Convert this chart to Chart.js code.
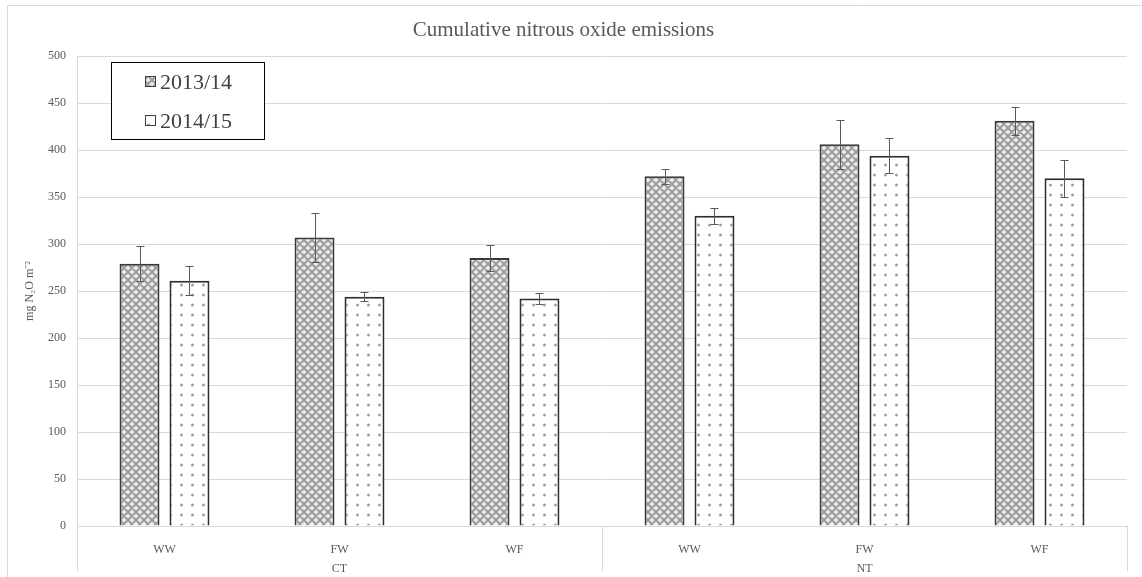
<!DOCTYPE html>
<html>
<head>
    <meta charset="UTF-8">
    <title>Cumulative nitrous oxide emissions</title>
    <script src="https://cdn.jsdelivr.net/npm/chart.js@4.4.0/dist/chart.umd.min.js"></script>
    <style>
        html, body { margin: 0; padding: 0; background: #fff; }
        #wrap { width: 1142px; height: 577px; }
    </style>
</head>
<body>
    <div id="wrap"><canvas id="myChart" width="1142" height="577"></canvas></div>
    <script>

        var categories = ['WW', 'FW', 'WF', 'WW', 'FW', 'WF'];
        var groups = ['CT', 'NT'];
        var seasonLabels = ['2013/14', '2014/15'];
        var season1 = [279, 307, 285, 372, 406, 431];
        var season1Err = [18.5, 26, 14, 8, 26, 15];
        var season2 = [261, 244, 242, 330, 394, 370];
        var season2Err = [15.5, 5, 5.5, 8.5, 18.5, 19.5];
        var yTicks = [0, 50, 100, 150, 200, 250, 300, 350, 400, 450, 500];

        var textGrey = '#595959';
        var gridGrey = '#d9d9d9';

        // hatch tile for 2013/14
        function hatchPattern() {
            var c = document.createElement('canvas');
            c.width = 8; c.height = 8;
            var g = c.getContext('2d');
            g.fillStyle = '#ececec';
            g.fillRect(0, 0, 8, 8);
            g.strokeStyle = '#9c9c9c';
            g.lineWidth = 2;
            g.beginPath();
            g.moveTo(-2, -2); g.lineTo(10, 10);
            g.moveTo(-2, 6); g.lineTo(2, 10);
            g.moveTo(6, -2); g.lineTo(10, 2);
            g.moveTo(10, -2); g.lineTo(-2, 10);
            g.moveTo(2, -2); g.lineTo(-2, 2);
            g.moveTo(10, 6); g.lineTo(6, 10);
            g.stroke();
            return g.createPattern(c, 'repeat');
        }

        // dotted tile for 2014/15
        function dotPattern() {
            var c = document.createElement('canvas');
            c.width = 11; c.height = 10;
            var g = c.getContext('2d');
            g.fillStyle = '#ffffff';
            g.fillRect(0, 0, 11, 10);
            g.fillStyle = '#a0a0a0';
            g.beginPath();
            g.arc(5.5, 5, 1.5, 0, Math.PI * 2);
            g.fill();
            return g.createPattern(c, 'repeat');
        }

        var fills = [hatchPattern(), dotPattern()];
        var errors = [season1Err, season2Err];

        var errorBars = {
            id: 'errorBars',
            afterDatasetsDraw(chart) {
                var ctx = chart.ctx;
                var y = chart.scales.y;
                ctx.save();
                ctx.strokeStyle = '#595959';
                ctx.lineWidth = 1;
                chart.data.datasets.forEach(function (ds, i) {
                    var meta = chart.getDatasetMeta(i);
                    meta.data.forEach(function (bar, j) {
                        var v = ds.data[j], e = errors[i][j];
                        var x = Math.round(bar.x) + 0.5;
                        var top = Math.round(y.getPixelForValue(v + e)) + 0.5;
                        var bot = Math.round(y.getPixelForValue(v - e)) + 0.5;
                        ctx.beginPath();
                        ctx.moveTo(x, top); ctx.lineTo(x, bot);
                        ctx.moveTo(x - 4, top); ctx.lineTo(x + 4, top);
                        ctx.moveTo(x - 4, bot); ctx.lineTo(x + 4, bot);
                        ctx.stroke();
                    });
                });
                ctx.restore();
            }
        };

        var frameAndLegend = {
            id: 'frameAndLegend',
            beforeDraw(chart) {
                var ctx = chart.ctx;
                ctx.save();
                ctx.strokeStyle = gridGrey;
                ctx.lineWidth = 1;
                ctx.beginPath();
                ctx.moveTo(7.5, 577); ctx.lineTo(7.5, 5.5); ctx.lineTo(1142, 5.5);
                ctx.stroke();
                ctx.restore();
            },
            afterDraw(chart) {
                var ctx = chart.ctx;
                var area = chart.chartArea;
                var x = chart.scales.x;
                ctx.save();
                // group separators below the category axis
                ctx.strokeStyle = gridGrey;
                ctx.lineWidth = 1;
                var half = (x.getPixelForValue(1) - x.getPixelForValue(0)) / 2;
                var seps = [area.left, x.getPixelForValue(2) + half, area.right];
                ctx.beginPath();
                seps.forEach(function (sx) {
                    var px = Math.round(sx) + 0.5;
                    ctx.moveTo(px, area.bottom);
                    ctx.lineTo(px, area.bottom + 45);
                });
                ctx.stroke();

                // legend box
                var bx = 111.5, by = 62.5, bw = 153, bh = 77;
                ctx.fillStyle = '#ffffff';
                ctx.fillRect(bx, by, bw, bh);
                ctx.strokeStyle = '#000000';
                ctx.strokeRect(bx, by, bw, bh);
                ctx.font = '22px "Liberation Serif"';
                ctx.textBaseline = 'middle';
                ctx.textAlign = 'left';
                seasonLabels.forEach(function (lab, i) {
                    var cy = 82 + i * 39;
                    ctx.fillStyle = fills[i];
                    ctx.fillRect(145, cy - 6, 11, 11);
                    ctx.strokeStyle = '#404040';
                    ctx.strokeRect(145.5, cy - 5.5, 10, 10);
                    ctx.fillStyle = '#404040';
                    ctx.fillText(lab, 160, cy + 1);
                });
                ctx.restore();
            }
        };

        Chart.defaults.font.family = '"Liberation Serif", "Times New Roman", serif';
        Chart.defaults.color = textGrey;

        const data = {
            labels: categories,
            datasets: [{
                label: seasonLabels[0],
                data: season1,
                backgroundColor: fills[0],
                borderColor: '#3a3a3a',
                borderWidth: 2
            }, {
                label: seasonLabels[1],
                data: season2,
                backgroundColor: fills[1],
                borderColor: '#2e2e2e',
                borderWidth: 2
            }]
        };

        const config = {
            type: 'bar',
            data,
            options: {
                responsive: false,
                animation: false,
                categoryPercentage: 0.571,
                barPercentage: 0.8,
                layout: { padding: { left: 0, right: 15, top: 0, bottom: 0 } },
                plugins: {
                    legend: { display: false },
                    tooltip: { enabled: false },
                    title: {
                        display: true,
                        text: 'Cumulative nitrous oxide emissions',
                        color: textGrey,
                        font: { size: 21, weight: 'normal' },
                        padding: { top: 18, bottom: 12.8 }
                    }
                },
                scales: {
                    y: {
                        min: 0,
                        max: 500,
                        afterBuildTicks(scale) {
                            scale.ticks = yTicks.map(function (v) { return { value: v }; });
                        },
                        afterFit(scale) { scale.width = 77; },
                        grid: { color: gridGrey, drawTicks: false },
                        border: { display: true, color: gridGrey },
                        ticks: { padding: 11, font: { size: 12 }, color: textGrey },
                        title: {
                            display: true,
                            text: 'mg N\u2082O m\u207B\u00B2',
                            font: { size: 12 },
                            color: textGrey,
                            padding: { top: 23, bottom: 0 }
                        }
                    },
                    x: {
                        weight: 0,
                        grid: { display: false },
                        border: { display: false },
                        afterFit(scale) { scale.height = 28; },
                        ticks: { padding: 9, font: { size: 12 }, color: textGrey, maxRotation: 0, autoSkip: false }
                    },
                    x2: {
                        type: 'category',
                        position: 'bottom',
                        weight: 1,
                        labels: groups,
                        offset: true,
                        grid: { display: false },
                        border: { display: false },
                        afterFit(scale) { scale.height = 23; },
                        ticks: { padding: 0, font: { size: 12 }, color: textGrey }
                    }
                }
            },
            plugins: [frameAndLegend, errorBars]
        };

        var myChart = new Chart(document.getElementById('myChart'), config);
    </script>
</body>
</html>
